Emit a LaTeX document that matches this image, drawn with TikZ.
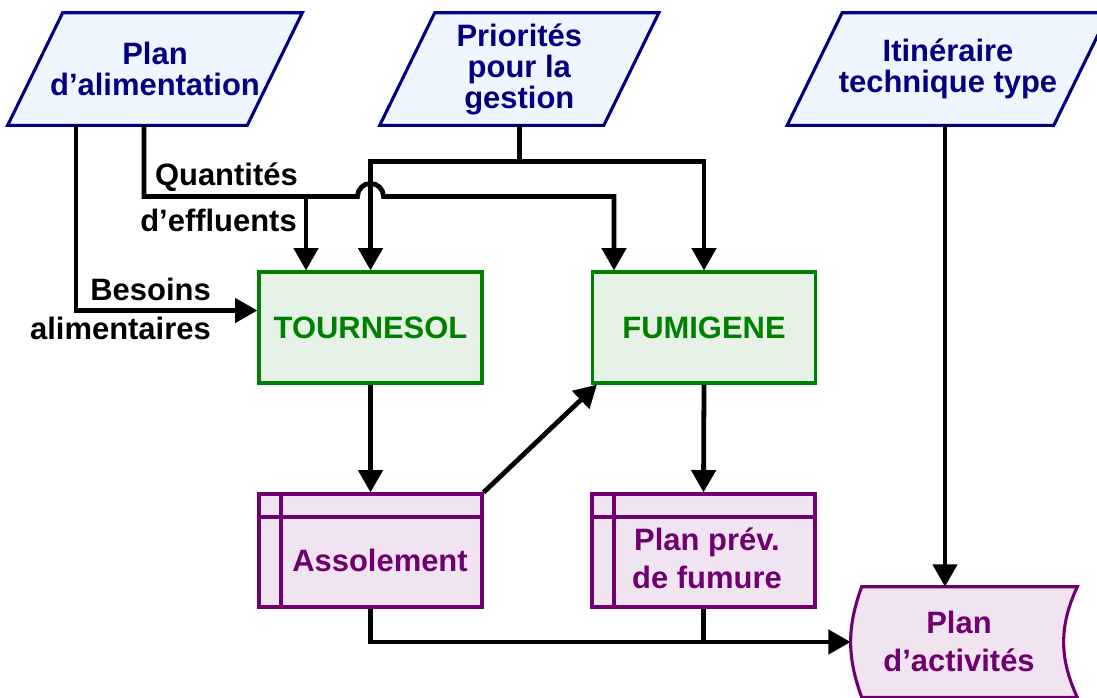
\documentclass[tikz,border=0pt]{standalone}
\usepackage{fontspec}
\setmainfont{Liberation Sans}
\usepackage{tikz}
\usetikzlibrary{arrows.meta,calc,backgrounds}

\definecolor{bleuTexte}{HTML}{000080}
\definecolor{bleuFond}{HTML}{EEF6FF}
\definecolor{vertTrait}{HTML}{008000}
\definecolor{vertFond}{HTML}{E6F2E6}
\definecolor{violetTrait}{HTML}{700070}
\definecolor{violetFond}{HTML}{F0E4F0}

% Parallelogramme derriere un noeud
\newcommand{\parallelo}[1]{%
	\filldraw[draw=bleuTexte,fill=bleuFond,line width=2.2pt] ([xshift=-0.6875cm]#1.south west) -- ([xshift=-0.6875cm]#1.south east) -- ([xshift=0.6875cm]#1.north east) -- ([xshift=0.6875cm]#1.north west) -- cycle;}

\begin{document}
\begin{tikzpicture}[x=0.025cm,y=-0.025cm,
	texte/.style={font=\fontsize{22}{22}\selectfont\bfseries,align=center,inner sep=0pt},
	texteViolet/.style={texte,font=\fontsize{22}{27}\selectfont\bfseries,text=violetTrait},
	etiquette/.style={texte,text=black,anchor=east},
	entree/.style={texte,rectangle,text=bleuTexte,minimum height=2.8cm},
	modele/.style={texte,rectangle,draw=vertTrait,fill=vertFond,text=vertTrait,line width=2.2pt,minimum width=5.575cm,minimum height=2.775cm},
	fichier/.style={rectangle,draw=violetTrait,fill=violetFond,line width=2.2pt,minimum width=5.575cm,minimum height=2.825cm,
		path picture={\draw[violetTrait,line width=2.2pt] ([xshift=0.55cm]path picture bounding box.north west) -- ([xshift=0.55cm]path picture bounding box.south west)
			([yshift=-0.575cm]path picture bounding box.north west) -- ([yshift=-0.575cm]path picture bounding box.north east);}},
	lien/.style={line width=3.4pt},
	fleche/.style={lien,-{Triangle[length=0.56cm,width=0.6cm]}}]
	%
	% Cadre
	\useasboundingbox (0,0) rectangle (1097,697);
	%
	% Entrees
	\node[entree,minimum width=5.975cm] (alim) at (155,69) {Plan\\d’alimentation};
	\node[entree,minimum width=5.5875cm] (prio) at (519.3,69) {Priorités\\pour la\\gestion};
	\node[entree,minimum width=6.65cm] (itin) at (948,69) {Itinéraire\\technique type};
	\begin{scope}[on background layer]
		\parallelo{alim}
		\parallelo{prio}
		\parallelo{itin}
	\end{scope}
	%
	% Modeles
	\node[modele] (tourn) at (370.5,327.5) {TOURNESOL};
	\node[modele] (fumi) at (704,327.5) {FUMIGENE};
	%
	% Sorties
	\node[fichier] (asso) at (370.5,550.5) {};
	\node[texteViolet] (assoTexte) at (380,560) {Assolement};
	\node[fichier] (fumure) at (703.5,550.5) {};
	\node[texteViolet] (fumureTexte) at (707,558) {Plan prév.\\de fumure};
	\node[minimum width=5.375cm,minimum height=2.75cm] (activ) at (969.5,642) {};
	\filldraw[draw=violetTrait,fill=violetFond,line width=2.2pt] (activ.north west) to[bend right=20] (activ.south west) -- (activ.south east) to[bend left=25] (activ.north east) -- cycle;
	\node[texteViolet] (activTexte) at (959,641) {Plan\\d’activités};
	\coordinate (activEntree) at ($(activ.west)+(-11,0)$);
	%
	% Liaisons
	\coordinate (alimG) at ($(alim.south)+(-79,0)$);
	\coordinate (alimD) at ($(alim.south)+(-11,0)$);
	\coordinate (effl) at ($(tourn.north)+(0,-74)$);
	\coordinate (prioB) at ($(prio.south)+(0,36)$);
	\draw[fleche] (alimG) |- ($(tourn.west)+(0,-17)$);
	\draw[fleche] (alimD) |- ($(effl)+(-13,0)$) arc[start angle=180,end angle=0,radius=0.325cm] -| ($(fumi.north)+(-90,0)$);
	\draw[fleche] (alimD |- effl) -| ($(tourn.north)+(-64.5,0)$);
	\draw[lien] (prio.south) -- (prioB);
	\draw[fleche] (prioB) -| (tourn.north);
	\draw[fleche] (prioB) -| (fumi.north);
	\draw[fleche] (tourn.south) -- (asso.north);
	\draw[fleche] (asso.north east) -- ($(fumi.south west)+(6,0)$);
	\draw[fleche] (fumi.south) -- (fumure.north);
	\draw[fleche] ($(itin.south)+(-3,0)$) -- ($(itin.south |- activ.north)+(-3,0)$);
	\draw[fleche] (asso.south) |- (activEntree);
	\draw[lien] (fumure.south) -- (fumure.south |- activEntree);
	%
	% Etiquettes
	\node[etiquette] (quant) at (298,177) {Quantités};
	\node[etiquette] (effluents) at (297,220) {d’effluents};
	\node[etiquette] (besoins) at (211,289) {Besoins};
	\node[etiquette] (alimentaires) at (211,328) {alimentaires};
\end{tikzpicture}
\end{document}
